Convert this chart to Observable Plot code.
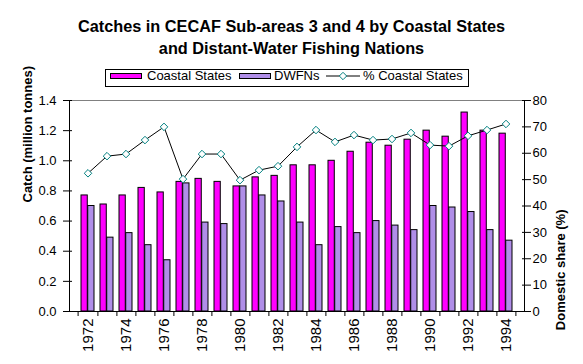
<!DOCTYPE html>
<html>
<head>
<meta charset="utf-8">
<script src="https://cdn.jsdelivr.net/npm/d3@7"></script>
<script src="https://cdn.jsdelivr.net/npm/@observablehq/plot@0.6"></script>
<style>
  body { margin: 0; background: #fff; font-family: "Liberation Sans", Arial, sans-serif; }
  #wrap { position: relative; width: 583px; height: 364px; overflow: hidden; }
  #title { position: absolute; left: 0; top: 15px; width: 583px; text-align: center;
           font-weight: bold; font-size: 16.3px; line-height: 22px; color: #000; }
  #legend { position: absolute; left: 105px; top: 69px; width: 364px; height: 18px;
            box-sizing: border-box; border: 1px solid #000; }
  .sw { position: absolute; top: 73px; width: 32px; height: 6px; box-sizing: border-box; border: 1px solid #000; }
  .lt { position: absolute; top: 68px; font-size: 13px; line-height: 15px; color: #000; white-space: nowrap; }
  #chart { position: absolute; left: 0; top: 92px; }
</style>
</head>
<body>
<div id="wrap">
  <div id="title">Catches in CECAF Sub-areas 3 and 4 by Coastal States<br>and Distant-Water Fishing Nations</div>
  <div id="legend"></div>
  <div class="sw" style="left:110px;background:#ff00ff"></div>
  <div class="lt" style="left:147px">Coastal States</div>
  <div class="sw" style="left:239px;background:#b08ee8"></div>
  <div class="lt" style="left:274px">DWFNs</div>
  <svg style="position:absolute;left:326px;top:71px" width="34" height="10">
    <line x1="0" y1="5" x2="34" y2="5" stroke="#000" stroke-width="1"/>
    <path d="M17,1.3L20.7,5L17,8.7L13.3,5Z" fill="#fff" stroke="#008080" stroke-width="1"/>
  </svg>
  <div class="lt" style="left:363px">% Coastal States</div>
  <div id="chart"></div>
</div>
<script>
const years = [1972,1973,1974,1975,1976,1977,1978,1979,1980,1981,1982,1983,1984,1985,1986,1987,1988,1989,1990,1991,1992,1993,1994];
const coastal = [0.77,0.71,0.77,0.82,0.79,0.86,0.88,0.86,0.83,0.89,0.90,0.97,0.97,1.00,1.06,1.12,1.10,1.14,1.20,1.16,1.32,1.20,1.18];
const dwfn = [0.70,0.49,0.52,0.44,0.34,0.85,0.59,0.58,0.83,0.77,0.73,0.59,0.44,0.56,0.52,0.60,0.57,0.54,0.70,0.69,0.66,0.54,0.47];
const pctCoastal = [52.4,58.9,59.7,65.0,70.0,50.2,59.7,59.7,49.8,53.6,55.1,62.4,68.8,64.3,66.9,65.0,65.4,67.7,63.1,62.7,66.6,68.8,71.1];
const xTickLabels = [1972,1974,1976,1978,1980,1982,1984,1986,1988,1990,1992,1994];
const leftTicks = [0,0.2,0.4,0.6,0.8,1.0,1.2,1.4];
const rightTicks = [0,10,20,30,40,50,60,70,80];

const rows = years.map((y, i) => ({year: y, coastal: coastal[i], dwfn: dwfn[i], pct: pctCoastal[i]}));

const W = 583, H = 272;
const mL = 69, mR = 59, mT = 8, mB = 53;
const step = (W - mL - mR) / years.length;
const padIn = 0.32;
const bw = step * (1 - padIn);
const k = 1.4 / 80; // right-axis % to left-axis units

const chart = Plot.plot({
  width: W, height: H,
  marginLeft: mL, marginRight: mR, marginTop: mT, marginBottom: mB,
  style: {fontFamily: '"Liberation Sans", Arial, sans-serif', fontSize: "13px", color: "#000", background: "#fff", overflow: "visible"},
  x: {type: "band", domain: years, paddingInner: padIn, paddingOuter: padIn / 2},
  y: {domain: [0, 1.4]},
  marks: [
    Plot.frame({stroke: "#808080"}),
    Plot.barY(rows, {x: "year", y: "coastal", fill: "#ff00ff", stroke: "#000", strokeWidth: 1, insetRight: bw / 2}),
    Plot.barY(rows, {x: "year", y: "dwfn", fill: "#b08ee8", stroke: "#000", strokeWidth: 1, insetLeft: bw / 2}),
    Plot.frame({anchor: "left", stroke: "#000"}),
    Plot.frame({anchor: "right", stroke: "#000"}),
    Plot.frame({anchor: "bottom", stroke: "#000"}),
    Plot.line(rows, {x: "year", y: d => d.pct * k, stroke: "#000", strokeWidth: 1}),
    Plot.dot(rows, {x: "year", y: d => d.pct * k, symbol: "diamond2", r: 3.4, fill: "#fff", stroke: "#008080", strokeWidth: 1}),
    Plot.axisY({anchor: "left", ticks: leftTicks, tickFormat: d3.format(".1f"), tickSize: 9, dx: 3, tickPadding: 7, label: null, fontSize: 13}),
    Plot.axisY({anchor: "right", ticks: rightTicks.map(v => v * k), tickFormat: d => String(Math.round(d / k)), tickSize: 9, dx: -3, tickPadding: 2, label: null, fontSize: 13}),
    Plot.axisX({tickSize: 5, dx: step / 2, tickFormat: () => "", label: null}),
    Plot.axisX({ticks: [years[0]], tickSize: 5, dx: -step / 2, tickFormat: () => "", label: null}),
    Plot.axisX({ticks: xTickLabels, tickSize: 0, tickRotate: -90, tickPadding: 7, tickFormat: d => String(d), label: null, fontSize: 15}),
    Plot.text(["Catch (million tonnes)"], {frameAnchor: "left", dx: -42, dy: -3.5, rotate: -90, fontWeight: "bold", fontSize: 13}),
    Plot.text(["Domestic share (%)"], {frameAnchor: "right", dx: 36, dy: 3.5, rotate: -90, fontWeight: "bold", fontSize: 13})
  ]
});
document.getElementById("chart").appendChild(chart);
</script>
</body>
</html>
